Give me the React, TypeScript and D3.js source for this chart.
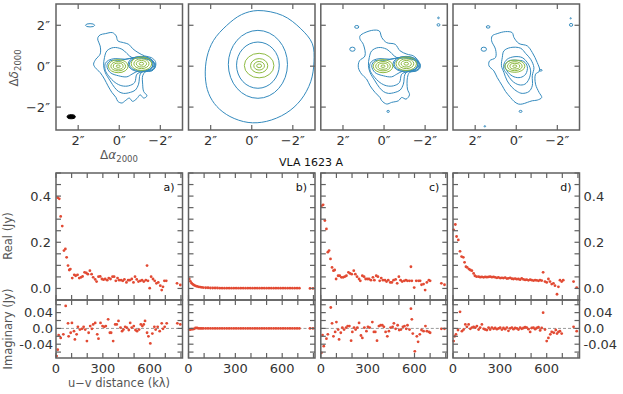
import React from "react";
import * as d3 from "d3";

type P = [number, number];
type E = [number, number, number, number]; // cx, cy, rx, ry in arcsec

// ---------- axis ticks ----------
const panelTags = ["a)", "b)", "c)", "d)"];
const arcTicks = [-2, 0, 2];
const uvTicks = [0, 100, 200, 300, 400, 500, 600, 700, 800];
const uvTickLabels = [0, 300, 600];
const reTicks = [0, 0.05, 0.1, 0.15, 0.2, 0.25, 0.3, 0.35, 0.4, 0.45, 0.5];
const reTickLabels = [0, 0.2, 0.4];
const imTicks = [-0.06, -0.04, -0.02, 0, 0.02, 0.04, 0.06];
const imTickLabels = [-0.04, 0, 0.04];

// ---------- visibilities (u-v distance in klambda, Jy) ----------
const uvReA = [11,21,30,40,51,60,68,77,85,92,104,117,126,138,149,160,170,183,194,204,217,228,238,251,260,272,283,294,304,315,328,338,349,362,372,383,394,404,417,428,438,451,462,472,485,496,506,517,528,540,551,562,575,583,589,600,609,621,632,643,655,668,677,685,694,706,775,796];
const reA = [0.393,0.388,0.312,0.27,0.164,0.171,0.135,0.099,0.08,0.084,0.045,0.059,0.055,0.059,0.045,0.048,0.052,0.07,0.067,0.062,0.077,0.062,0.048,0.039,0.03,0.051,0.052,0.041,0.038,0.041,0.036,0.045,0.041,0.051,0.051,0.033,0.045,0.036,0.036,0.033,0.039,0.026,0.036,0.036,0.041,0.026,0.051,0.039,0.03,0.033,0.036,0.03,0.036,0.099,0.033,0.001,0.051,0.041,0.033,0.022,0.026,0.012,-0.007,0.007,0.033,0.033,0.022,0.015];
const uvImA = [4,11,17,30,47,62,77,81,94,102,115,121,132,140,153,166,177,187,198,209,219,230,238,251,264,272,285,298,309,319,334,345,353,366,379,389,400,413,423,432,443,453,466,475,485,498,509,519,532,543,553,562,570,583,592,604,617,630,638,651,664,677,685,696,709,777,796];
const imA = [-0.07,-0.054,-0.017,-0.024,-0.015,0.057,0.013,-0.02,-0.011,0.014,-0.007,-0.028,-0.015,0.004,-0.003,-0.001,0.004,-0.003,-0.032,-0.011,0.006,-0.001,0.01,0.014,-0.015,-0.026,0.014,0.006,0.004,0.006,0.023,-0.011,-0.011,-0.032,0.01,0.01,0.019,0.002,-0.007,-0.003,0.004,0.002,-0.004,0.014,0.002,0.006,-0.004,-0.007,-0.003,0.01,0.006,0.01,0.019,-0.011,-0.02,-0.038,-0.013,0.004,-0.003,0.004,-0.007,0.013,-0.001,0.004,0.013,0.013,0.01];

const uvB = [5,12,20,28,36,45,55,65,75,85,95,110,125,140,155,170,185,200,215,230,245,260,275,290,305,320,335,350,365,380,395,410,425,440,455,470,485,500,515,530,545,560,575,590,605,620,635,650,665,680,695,710,778,797];
const reB = [0.041,0.031,0.023,0.018,0.014,0.011,0.009,0.007,0.006,0.005,0.004,0.003,0.003,0.002,0.002,0.002,0.002,0.001,0.001,0.001,0.001,0.001,0.001,0.001,0.001,0.001,0.001,0.001,0.001,0.001,0.001,0.001,0.001,0.001,0.001,0.001,0.001,0.001,0.001,0.001,0.001,0.001,0.001,0.001,0.001,0.001,0.001,0.001,0.001,0.001,0.001,0.001,0,0];
const imB = [-0.003,-0.003,-0.002,-0.002,-0.001,0.001,0.001,0,0,0,0,0,0,0,0,0,0,0,0,0,0,0,0,0,0,0,0,0,0,0,0,0,0,0,0,0,0,0,0,0,0,0,0,0,0,0,0,0,0,0,0,0,0,0];

const uvReC = [4,15,26,36,45,53,62,72,81,89,98,111,121,132,143,153,164,177,187,198,211,221,232,245,253,266,277,287,298,309,321,334,343,355,366,377,387,398,411,421,432,445,455,466,479,489,500,511,521,534,545,555,568,577,583,598,611,626,636,645,658,668,679,692,700,772,792];
const reC = [0.357,0.362,0.294,0.258,0.157,0.164,0.128,0.091,0.077,0.08,0.041,0.055,0.055,0.048,0.048,0.051,0.055,0.07,0.065,0.062,0.077,0.062,0.051,0.041,0.033,0.055,0.051,0.041,0.041,0.041,0.036,0.048,0.036,0.055,0.051,0.033,0.045,0.036,0.036,0.03,0.036,0.026,0.026,0.036,0.039,0.022,0.051,0.036,0.03,0.033,0.036,0.033,0.033,0.094,0.033,0.004,0.033,0.033,0.033,0.016,0.019,-0.007,0.026,0.036,0.033,0.022,0.016];
const uvImC = [4,11,19,36,45,64,72,81,92,100,111,117,128,138,149,162,172,183,194,202,213,223,234,245,257,266,279,292,302,313,330,340,349,360,372,383,394,404,415,426,436,447,460,468,479,492,502,513,526,536,547,555,568,577,583,589,602,615,623,634,645,658,670,679,692,700,772,792];
const imC = [-0.062,-0.017,-0.045,-0.026,-0.015,0.053,0.013,-0.02,-0.009,0.016,-0.003,-0.028,-0.011,0.002,-0.003,0.002,0.006,0.006,-0.031,-0.009,0.002,-0.003,0.002,0.014,-0.018,-0.024,0.002,-0.007,0.004,0.002,0.016,-0.009,-0.009,-0.031,0.006,0.008,0.008,0.004,-0.009,-0.02,-0.007,0.002,0.004,0.013,-0.001,0.008,-0.004,-0.003,0.004,0.006,-0.001,0.008,-0.003,0.05,0.023,-0.013,-0.058,-0.02,-0.034,-0.015,-0.004,-0.007,0.006,-0.007,-0.009,-0.011,-0.001,-0.001];

const uvReD = [4,15,23,34,45,55,66,74,83,91,102,111,121,132,140,151,164,174,185,196,206,217,228,238,249,260,270,281,291,302,313,323,334,345,355,366,377,387,398,408,419,430,440,451,462,472,483,494,504,515,526,536,547,557,568,577,589,600,611,621,632,643,653,666,675,685,696,706,772,792];
const reD = [0.254,0.277,0.225,0.21,0.161,0.138,0.135,0.113,0.094,0.091,0.084,0.08,0.077,0.065,0.055,0.051,0.051,0.049,0.05,0.048,0.05,0.049,0.05,0.051,0.049,0.05,0.048,0.046,0.048,0.045,0.046,0.045,0.047,0.043,0.044,0.046,0.042,0.041,0.043,0.04,0.041,0.038,0.044,0.039,0.037,0.038,0.035,0.038,0.036,0.034,0.036,0.035,0.033,0.036,0.034,0.07,0.03,0.026,0.041,0.03,0.019,0.022,0.012,-0.025,0.007,0.036,0.03,0.036,0.03,0.004];
const uvImD = [4,11,19,32,45,57,68,79,89,100,111,121,132,143,153,164,174,185,196,206,217,228,238,249,260,270,281,292,302,313,323,334,345,355,366,377,387,398,409,419,430,440,451,462,472,483,494,504,515,526,536,547,558,568,577,589,600,611,623,632,645,658,666,675,685,696,772,792];
const imD = [-0.032,-0.02,-0.015,-0.004,0.042,-0.007,-0.003,0.01,0.004,0.01,-0.001,0.002,0.004,0.002,0.006,-0.003,0.002,0.01,-0.001,-0.003,-0.004,0.002,-0.003,0.002,-0.001,0.001,-0.002,0,0.002,-0.003,0.001,-0.002,0.002,-0.006,0,0.002,-0.002,0.001,0,-0.003,0.002,-0.001,0.001,0.003,0.002,-0.002,-0.009,0.001,0.002,-0.002,0.001,0.003,-0.005,0.001,0.04,-0.003,-0.032,-0.024,-0.015,-0.009,-0.011,-0.004,-0.013,-0.009,-0.007,-0.013,0.004,-0.007];

// ---------- contour maps (offsets in arcsec) ----------
const outerA: P[] = [[1.04,1.4],[0.93,1.53],[0.68,1.59],[0.33,1.64],[0.15,1.48],[0.07,1.24],[-0.21,1.15],[-0.46,1.07],[-0.65,0.86],[-0.91,0.67],[-1.24,0.5],[-1.56,0.42],[-1.76,0.23],[-1.76,-0.03],[-1.59,-0.23],[-1.27,-0.28],[-1.14,-0.47],[-1.14,-0.88],[-1.19,-1.24],[-1.35,-1.45],[-1.19,-1.56],[-1.02,-1.4],[-0.86,-1.58],[-0.65,-1.72],[-0.49,-1.56],[-0.29,-1.69],[-0.13,-1.8],[0.07,-1.72],[0.16,-1.53],[0.36,-1.28],[0.55,-0.96],[0.72,-0.63],[0.93,-0.31],[1.17,-0.07],[1.25,0.1],[1.14,0.34],[0.93,0.59],[0.93,0.99],[1.04,1.27]];
const level2AC: P[] = [[0.72,0.42],[0.6,0.75],[0.28,0.91],[-0.13,0.83],[-0.62,0.42],[-1.07,0.39],[-1.51,0.29],[-1.76,0.1],[-1.67,-0.15],[-1.19,-0.23],[-1.02,-0.39],[-0.94,-0.88],[-0.78,-1.17],[-0.54,-1.28],[-0.21,-1.33],[0.03,-1.24],[0.23,-1.04],[0.44,-0.72],[0.68,-0.31],[0.76,0.02]];
const level3AC: P[] = [[0.68,0.13],[0.52,0.29],[0.2,0.37],[-0.29,0.34],[-0.7,0.42],[-1.19,0.46],[-1.59,0.29],[-1.72,0.02],[-1.59,-0.2],[-1.11,-0.28],[-0.86,-0.39],[-0.75,-0.8],[-0.46,-0.96],[-0.13,-0.96],[0.2,-0.8],[0.52,-0.47],[0.68,-0.2]];
const level4AC: P[] = [[0.6,0.02],[0.44,0.26],[-0.05,0.29],[-0.62,0.39],[-1.14,0.42],[-1.51,0.26],[-1.63,0.02],[-1.43,-0.2],[-0.94,-0.23],[-0.62,-0.39],[-0.37,-0.52],[0.03,-0.47],[0.44,-0.31]];
const ringsAC: E[] = [[-1.07,0.1,0.64,0.38],[-1.07,0.1,0.58,0.34]];
const greenAC: E[] = [[0.05,0,0.48,0.32],[0.05,0,0.36,0.23],[0.05,0,0.24,0.15],[0.05,0,0.1,0.06],[-1.08,0.12,0.5,0.33],[-1.08,0.12,0.37,0.24],[-1.08,0.12,0.25,0.16],[-1.08,0.12,0.11,0.07]];
const blobsA: E[] = [[1.42,2.0,0.22,0.08]];
const beamA: E = [2.34,-2.47,0.2,0.1];

const outerB: P[] = [[-0.3,2.72],[-1.5,2.48],[-2.39,1.83],[-2.95,1.1],[-3.03,0.21],[-2.87,-0.76],[-2.39,-1.65],[-1.67,-2.3],[-0.71,-2.7],[0.18,-2.75],[1.06,-2.46],[1.7,-1.97],[2.1,-1.33],[2.26,-0.52],[2.18,0.45],[1.86,1.26],[1.22,1.99],[0.5,2.52]];
const ringsB: E[] = [[-0.3,0.09,1.44,1.66],[-0.3,0.05,1.04,1.13]];
const greenB: E[] = [[-0.36,0.03,0.72,0.6],[-0.36,0.02,0.42,0.35],[-0.36,0.02,0.26,0.21],[-0.36,0.02,0.12,0.09]];

const outerC: P[] = [[1.17,1.48],[0.93,1.64],[0.52,1.76],[0.23,1.72],[0.11,1.4],[-0.13,1.15],[-0.54,1.07],[-0.78,0.75],[-1.11,0.59],[-1.43,0.5],[-1.67,0.26],[-1.76,-0.07],[-1.59,-0.23],[-1.24,-0.31],[-1.14,-0.55],[-1.14,-1.12],[-1.24,-1.4],[-1.07,-1.61],[-0.86,-1.53],[-0.7,-1.69],[-0.37,-1.77],[-0.13,-1.85],[0.11,-1.69],[0.2,-1.53],[0.44,-1.28],[0.68,-0.96],[0.85,-0.63],[1.09,-0.39],[1.25,-0.07],[1.2,0.26],[0.93,0.5],[1.01,1.07],[1.17,1.32]];
const blobsC: E[] = [[1.33,1.92,0.1,0.07],[1.54,0.83,0.13,0.1],[-2.65,2.36,0.04,0.04],[-2.65,2.02,0.07,0.06],[-0.2,-2.21,0.06,0.05]];

const outerD: P[] = [[1.17,1.48],[0.93,1.59],[0.52,1.69],[0.2,1.64],[0.11,1.4],[-0.13,1.11],[-0.54,0.99],[-0.78,0.67],[-1.02,0.18],[-1.14,-0.23],[-0.94,-0.39],[-0.94,-0.88],[-1.11,-1.28],[-1.24,-1.53],[-1.02,-1.66],[-0.78,-1.69],[-0.54,-1.77],[-0.29,-1.85],[-0.1,-1.85],[0.11,-1.72],[0.28,-1.53],[0.52,-1.24],[0.68,-0.96],[0.93,-0.55],[1.09,-0.23],[1.33,0.02],[1.3,0.26],[1.01,0.42],[1.01,0.83],[1.2,1.24]];
const level2D: P[] = [[0.68,0.42],[0.6,0.75],[0.28,0.91],[-0.21,0.88],[-0.46,0.62],[-0.7,0.34],[-0.86,-0.07],[-0.78,-0.47],[-0.78,-0.96],[-0.62,-1.24],[-0.29,-1.33],[-0.05,-1.24],[0.2,-1.04],[0.44,-0.72],[0.6,-0.31],[0.72,0.02]];
const level3D: P[] = [[0.6,0.1],[0.44,0.34],[0.11,0.46],[-0.29,0.42],[-0.59,0.1],[-0.7,-0.23],[-0.62,-0.63],[-0.42,-0.88],[-0.13,-0.91],[0.2,-0.72],[0.44,-0.39],[0.6,-0.15]];
const level4D: P[] = [[0.55,0.02],[0.36,0.26],[-0.05,0.29],[-0.37,0.23],[-0.54,-0.03],[-0.46,-0.39],[-0.21,-0.55],[0.11,-0.52],[0.39,-0.31]];
const greenD: E[] = [[0.07,0,0.49,0.3],[0.07,0,0.36,0.22],[0.07,0,0.24,0.14],[0.07,0,0.1,0.06]];
const blobsD: E[] = [[1.37,1.92,0.09,0.06],[1.58,0.83,0.13,0.1],[-1.19,-0.2,0.07,0.04],[-2.65,2.34,0.03,0.03],[-2.67,2.02,0.08,0.07],[-0.21,-2.21,0.07,0.05],[1.53,-2.94,0.04,0.03]];

const maps = [
  { lines: [outerA, level2AC, level3AC, level4AC], rings: ringsAC, green: greenAC, blobs: blobsA, beam: beamA },
  { lines: [outerB], rings: ringsB, green: greenB, blobs: [] as E[], beam: null },
  { lines: [outerC, level2AC, level3AC, level4AC], rings: ringsAC, green: greenAC, blobs: blobsC, beam: null },
  { lines: [outerD, level2D, level3D, level4D], rings: [] as E[], green: greenD, blobs: blobsD, beam: null },
];

const vis = [
  { re: d3.zip(uvReA, reA), im: d3.zip(uvImA, imA) },
  { re: d3.zip(uvB, reB), im: d3.zip(uvB, imB) },
  { re: d3.zip(uvReC, reC), im: d3.zip(uvImC, imC) },
  { re: d3.zip(uvReD, reD), im: d3.zip(uvImD, imD) },
];

const BLUE = "#348ABD";
const GREEN = "#8EBA42";
const RED = "#E24A33";
const FRAME = "#616161";
const cols = [56, 188.5, 320.8, 453];
const cw = 126.5;
const TICK_FS = 13;

function boxTicks(id: string, x: any, y: any, xt: number[], yt: number[], len = 5) {
  const [x0, x1] = x.range();
  const [yb, ytop] = y.range();
  const out: any[] = [];
  xt.forEach((v) => {
    const px = x(v);
    out.push(<line key={`${id}xb${v}`} x1={px} x2={px} y1={yb} y2={yb - len} />);
    out.push(<line key={`${id}xt${v}`} x1={px} x2={px} y1={ytop} y2={ytop + len} />);
  });
  yt.forEach((v) => {
    const py = y(v);
    out.push(<line key={`${id}yl${v}`} x1={x0} x2={x0 + len} y1={py} y2={py} />);
    out.push(<line key={`${id}yr${v}`} x1={x1} x2={x1 - len} y1={py} y2={py} />);
  });
  return out;
}

const arcLabel = (v: number) => (v === 0 ? "0\u2033" : v < 0 ? `\u2212${-v}\u2033` : `${v}\u2033`);
const imLabel = (v: number) => (v === 0 ? "0.0" : v.toFixed(2));

export default function App() {
  const yArc = d3.scaleLinear().domain([-3.12, 3.04]).range([130, 4]);
  const yRe = d3.scaleLinear().domain([-0.05, 0.5]).range([300, 173]);
  const yIm = d3.scaleLinear().domain([-0.075, 0.072]).range([358, 300]);

  return (
    <svg width={623} height={394} style={{ position: "absolute", left: 0, top: 0, background: "#fff" }} fontFamily="DejaVu Sans">
      <defs>
        {cols.map((c, i) => (
          <clipPath key={i} id={`clip${i}`}>
            <rect x={c} y={4} width={cw} height={126} />
          </clipPath>
        ))}
      </defs>

      {/* contour maps */}
      {maps.map((m, i) => {
        const left = cols[i];
        const x = d3.scaleLinear().domain([3.08, -3.08]).range([left, left + cw]);
        const line = d3.line<P>().x((d) => x(d[0])).y((d) => yArc(d[1])).curve(d3.curveCatmullRomClosed.alpha(0.5));
        const ell = (e: E, k: string, stroke: string, fill = "none") => (
          <ellipse key={k} cx={x(e[0])} cy={yArc(e[1])} rx={Math.abs(x(e[2]) - x(0))} ry={Math.abs(yArc(e[3]) - yArc(0))} fill={fill} stroke={stroke} strokeWidth={1} />
        );
        return (
          <g key={`map${i}`}>
            <g clipPath={`url(#clip${i})`}>
              {m.lines.map((l, j) => (
                <path key={j} d={line(l) || ""} fill="none" stroke={BLUE} strokeWidth={1} />
              ))}
              {m.rings.map((e, j) => ell(e, `r${j}`, BLUE))}
              {m.blobs.map((e, j) => ell(e, `b${j}`, BLUE))}
              {m.green.map((e, j) => ell(e, `g${j}`, GREEN))}
              {m.beam && ell(m.beam, "beam", "#000", "#000")}
            </g>
            <g stroke={FRAME} strokeWidth={1.2}>{boxTicks(`m${i}`, x, yArc, arcTicks, arcTicks)}</g>
            <rect x={left} y={4} width={cw} height={126} fill="none" stroke={FRAME} strokeWidth={1.5} />
            {arcTicks.map((v) => (
              <text key={v} x={x(v)} y={145} textAnchor="middle" fontSize={TICK_FS} fill="#333">{arcLabel(v)}</text>
            ))}
            {i === 0 &&
              arcTicks.map((v) => (
                <text key={`y${v}`} x={left - 6} y={yArc(v)} dy="0.35em" textAnchor="end" fontSize={TICK_FS} fill="#333">{arcLabel(v)}</text>
              ))}
          </g>
        );
      })}

      <text transform="translate(18,68) rotate(-90)" textAnchor="middle" fontSize={12} fill="#555">
        Δ<tspan fontStyle="italic">δ</tspan><tspan dy={3} fontSize={8.5}>2000</tspan>
      </text>
      <text x={119} y={159} textAnchor="middle" fontSize={12} fill="#555">
        Δ<tspan fontStyle="italic">α</tspan><tspan dy={3} fontSize={8.5}>2000</tspan>
      </text>
      <text x={311} y={166} textAnchor="middle" fontSize={11} fill="#111">VLA 1623 A</text>

      {/* visibility panels */}
      {vis.map((s, i) => {
        const left = cols[i];
        const x = d3.scaleLinear().domain([0, 810]).range([left, left + cw]);
        return (
          <g key={`vis${i}`}>
            <line x1={left} x2={left + cw} y1={yIm(0)} y2={yIm(0)} stroke="#999" strokeWidth={1} strokeDasharray="3,2" />
            {s.re.map((d, j) => (
              <circle key={`re${j}`} cx={x(d[0])} cy={yRe(d[1])} r={1.4} fill={RED} />
            ))}
            {s.im.map((d, j) => (
              <circle key={`im${j}`} cx={x(d[0])} cy={yIm(d[1])} r={1.4} fill={RED} />
            ))}
            <g stroke={FRAME} strokeWidth={1.2}>
              {boxTicks(`re${i}`, x, yRe, uvTicks, reTicks)}
              {boxTicks(`im${i}`, x, yIm, uvTicks, imTicks)}
            </g>
            <rect x={left} y={173} width={cw} height={127} fill="none" stroke={FRAME} strokeWidth={1.5} />
            <rect x={left} y={300} width={cw} height={58} fill="none" stroke={FRAME} strokeWidth={1.5} />
            <text x={left + cw - 8} y={191} textAnchor="end" fontSize={11} fill="#111">{panelTags[i]}</text>
            {uvTickLabels.map((v) => (
              <text key={v} x={x(v)} y={373} textAnchor="middle" fontSize={TICK_FS} fill="#333">{v}</text>
            ))}
            {i === 0 && (
              <g fontSize={TICK_FS} fill="#333" textAnchor="end">
                {reTickLabels.map((v) => (
                  <text key={`r${v}`} x={left - 5} y={yRe(v)} dy="0.35em">{v.toFixed(1)}</text>
                ))}
                {imTickLabels.map((v) => (
                  <text key={`i${v}`} x={left - 3} y={yIm(v)} dy="0.35em">{imLabel(v)}</text>
                ))}
              </g>
            )}
            {i === 3 && (
              <g fontSize={TICK_FS} fill="#333" textAnchor="start">
                {reTickLabels.map((v) => (
                  <text key={`r${v}`} x={left + cw + 4} y={yRe(v)} dy="0.35em">{v.toFixed(1)}</text>
                ))}
                {imTickLabels.map((v) => (
                  <text key={`i${v}`} x={left + cw + 4} y={yIm(v)} dy="0.35em">{imLabel(v)}</text>
                ))}
              </g>
            )}
          </g>
        );
      })}

      <text transform="translate(12,236) rotate(-90)" textAnchor="middle" fontSize={11.5} fill="#555">Real (Jy)</text>
      <text transform="translate(12,329) rotate(-90)" textAnchor="middle" fontSize={11.5} fill="#555">Imaginary (Jy)</text>
      <text x={119} y={387} textAnchor="middle" fontSize={11.5} fill="#555">u−v distance (kλ)</text>
    </svg>
  );
}
